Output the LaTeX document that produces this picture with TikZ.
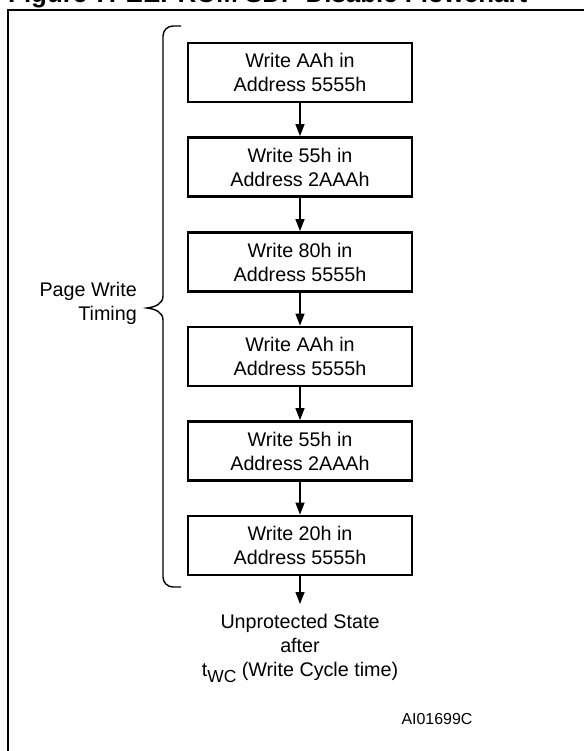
\documentclass[tikz,border=0pt]{standalone}
\usepackage{fontspec}
\setmainfont{Liberation Sans}
\usetikzlibrary{arrows.meta}
\begin{document}
\begin{tikzpicture}[x=1bp,y=-1bp,
  stepbox/.style={draw,line width=2.8bp,minimum width=224bp,minimum height=59bp,inner sep=0pt,align=center,font=\fontsize{19.8}{24}\selectfont},
  flow/.style={line width=1.4bp,-{Triangle[length=12bp,width=9bp]}},
  lbl/.style={font=\fontsize{19.8}{24}\selectfont,inner sep=0pt},
  frame/.style={line width=2bp}]
\useasboundingbox (0,0) rectangle (584,751);
\clip (0,0) rectangle (584,751);
\node[anchor=base west,inner sep=0pt,font=\fontsize{26}{26}\selectfont\bfseries] (title) at (8,3) {Figure 7. EEPROM SDP Disable Flowchart};
\draw[frame] (584,10) -- (8,10) -- (8,751);
\node[stepbox] (b1) at (300,72.5) {Write AAh in\\Address 5555h};
\node[stepbox] (b2) at (300,167) {Write 55h in\\Address 2AAAh};
\node[stepbox] (b3) at (300,262) {Write 80h in\\Address 5555h};
\node[stepbox] (b4) at (300,356.5) {Write AAh in\\Address 5555h};
\node[stepbox] (b5) at (300,451) {Write 55h in\\Address 2AAAh};
\node[stepbox] (b6) at (300,545.5) {Write 20h in\\Address 5555h};
\node[lbl,align=center,anchor=north] (res) at (300,614) {Unprotected State\\after\\t\raisebox{-6bp}{\fontsize{17.5}{17.5}\selectfont WC} (Write Cycle time)};
\coordinate (resTop) at (300,604);
\draw[flow] (b1) -- (b2);
\draw[flow] (b2) -- (b3);
\draw[flow] (b3) -- (b4);
\draw[flow] (b4) -- (b5);
\draw[flow] (b5) -- (b6);
\draw[flow] (b6) -- (resTop);
\draw[line width=1.4bp] (181,26) -- (173,26) .. controls (167.5,26) and (163,30.5) .. (163,36) -- (163,296)
  .. controls (163,304) and (155,307) .. (147,308)
  .. controls (155,309) and (163,312) .. (163,320) -- (163,577) .. controls (163,582.5) and (167.5,587) .. (173,587) -- (181,587);
\node[lbl,align=right,anchor=east] (pwt) at (137,303) {Page Write\\Timing};
\node[lbl,anchor=base] (code) at (437,724) {\fontsize{16}{16}\selectfont AI01699C};
\end{tikzpicture}
\end{document}
